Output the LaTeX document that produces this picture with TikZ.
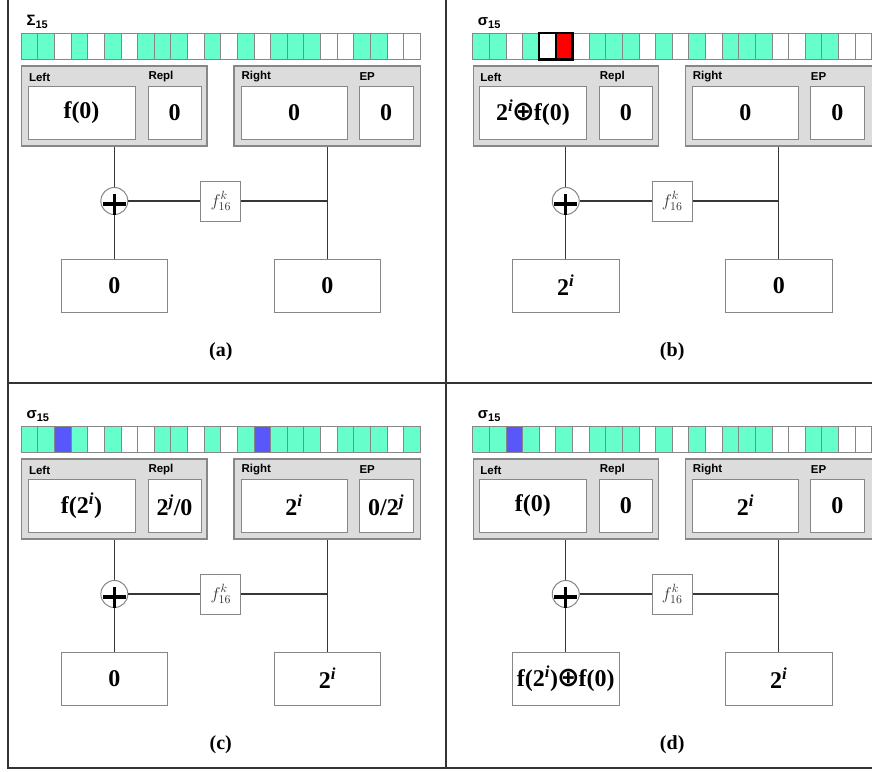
\documentclass[tikz,border=0pt]{standalone}
\usepackage{fix-cm}
\usepackage{fontspec}
\setmainfont{Liberation Serif}
\newfontfamily\labfont{Liberation Sans}
\newfontfamily\opfont{DejaVu Sans}
\usetikzlibrary{calc}

\definecolor{cG}{RGB}{102,255,204}
\definecolor{cW}{RGB}{255,255,255}
\definecolor{cB}{RGB}{88,88,250}
\definecolor{cR}{RGB}{255,0,0}
\definecolor{panelgray}{RGB}{220,220,220}
\definecolor{edgegray}{RGB}{135,135,135}
\definecolor{wire}{RGB}{55,55,55}

\tikzset{
  cell/.style={draw=edgegray, line width=0.9pt},
  holder/.style={rectangle, draw=edgegray, fill=panelgray, line width=1.2pt,
    inner sep=0pt, minimum height=80pt},
  valbox/.style={rectangle, draw=edgegray, fill=white, line width=1pt,
    inner sep=0pt, minimum height=53pt, font=\fontsize{24}{26}\selectfont\bfseries},
  tag/.style={anchor=west, inner sep=0pt, font=\labfont\bfseries\fontsize{11.5}{12}\selectfont},
  wireline/.style={draw=wire, line width=1.4pt},
  xorcirc/.style={circle, draw=edgegray, fill=white, line width=1pt,
    minimum size=27pt, inner sep=0pt},
  fnbox/.style={rectangle, draw=edgegray, fill=white, line width=1pt,
    minimum size=40pt, inner sep=0pt, font=\fontsize{17}{17}\selectfont, text=wire},
  caption/.style={inner sep=0pt, font=\fontsize{20}{22}\selectfont\bfseries},
  title/.style={anchor=base west, inner sep=0pt, font=\labfont\bfseries\fontsize{15}{15}\selectfont},
  frame/.style={draw=black!80, line width=2.4pt},
  pick/.style={draw=black, line width=2.4pt},
}

\newcommand\supi{\textsuperscript{\itshape i}}
\newcommand\supj{\textsuperscript{\itshape j}}
\newcommand\xor{{\opfont\fontsize{27}{27}\selectfont\kern-1pt⊕\kern-1pt}}

% one row of 24 state cells; G green, W white, B blue, R red
\newcommand\cellbar[1]{%
  \foreach \c [count=\i from 0] in {#1} {%
    \draw[cell, fill=c\c] (\i*16.625,0) rectangle ++(16.625,26.5);
  }%
}

% registers, xor and round function of one stage
% #1 id, #2 title, #3 Left, #4 Repl, #5 Right, #6 EP, #7 lower left, #8 lower right, #9 caption
\newcommand\stagepanel[9]{%
  \node[title] (#1-title) at (5,-8) {#2};
  \node[holder, minimum width=185.3pt] (#1-gl) at (93.05,73) {};
  \node[holder, minimum width=186.7pt] (#1-gr) at (306.05,73) {};
  \node[tag] (#1-tl) at (7.5,44) {Left};
  \node[tag] (#1-tr) at (127,44) {Repl};
  \node[tag] (#1-tR) at (220,44) {Right};
  \node[tag] (#1-te) at (338,44) {EP};
  \node[valbox, minimum width=107pt] (#1-left) at (60.2,79.5) {#3};
  \node[valbox, minimum width=53pt] (#1-repl) at (153.2,79.5) {#4};
  \node[valbox, minimum width=106pt] (#1-right) at (272.7,79.5) {#5};
  \node[valbox, minimum width=54pt] (#1-ep) at (364.7,79.5) {#6};
  \node[xorcirc] (#1-x) at (93.05,168) {};
  \node[fnbox] (#1-f) at (199.5,168) {$f^{k}_{16}$};
  \coordinate (#1-j) at (306.05,168);
  \node[valbox, minimum width=106.7pt] (#1-bl) at (93.05,252.5) {#7};
  \node[valbox, minimum width=106.7pt] (#1-br) at (306.05,252.5) {#8};
  \node[caption] (#1-cap) at (199.5,319) {#9};
  \draw[wireline] (#1-gl.south) -- (#1-x.north);
  \draw[wireline] (#1-x.south) -- (#1-bl.north);
  \draw[wireline] (#1-gr.south) -- (#1-br.north);
  \draw[wireline] (#1-x.east) -- (#1-f.west);
  \draw[wireline] (#1-f.east) -- (#1-j);
  \draw[line width=3.2pt, black] ([shift={(-11.5pt,-3pt)}]#1-x.center) -- ([shift={(11.5pt,-3pt)}]#1-x.center);
  \draw[line width=3.2pt, black] ([shift={(0pt,7pt)}]#1-x.center) -- ([shift={(0pt,-13.5pt)}]#1-x.center);
}

\begin{document}
\begin{tikzpicture}[x=1pt, y=-1pt]
\useasboundingbox (0,0) rectangle (872,771);

% (a)
\begin{scope}[shift={(21.3,33)}]
  \cellbar{G,G,W,G,W,G,W,G,G,G,W,G,W,G,W,G,G,G,W,W,G,G,W,W}
  \stagepanel{a}{Σ\raisebox{-3.5pt}{\fontsize{11}{11}\selectfont 15}}{f(0)}{0}{0}{0}{0}{0}{(a)}
\end{scope}

% (b)
\begin{scope}[shift={(472.7,33)}]
  \cellbar{G,G,W,G,W,R,W,G,G,G,W,G,W,G,W,G,G,G,W,W,G,G,W,W}
  \draw[pick] (4*16.625,0) rectangle ++(16.625,26.5);
  \draw[pick, fill=cR] (5*16.625,0) rectangle ++(16.625,26.5);
  \stagepanel{b}{σ\raisebox{-3.5pt}{\fontsize{11}{11}\selectfont 15}}{2\supi\xor f(0)}{0}{0}{0}{2\supi}{0}{(b)}
\end{scope}

% (c)
\begin{scope}[shift={(21.3,426)}]
  \cellbar{G,G,B,G,W,G,W,W,G,G,W,G,W,G,B,G,G,G,W,G,G,G,W,G}
  \stagepanel{c}{σ\raisebox{-3.5pt}{\fontsize{11}{11}\selectfont 15}}{f(2\supi)}{2\supj/0}{2\supi}{0/2\supj}{0}{2\supi}{(c)}
\end{scope}

% (d)
\begin{scope}[shift={(472.7,426)}]
  \cellbar{G,G,B,G,W,G,W,G,G,G,W,G,W,G,W,G,G,G,W,W,G,G,W,W}
  \stagepanel{d}{σ\raisebox{-3.5pt}{\fontsize{11}{11}\selectfont 15}}{f(0)}{0}{2\supi}{0}{f(2\supi)\xor f(0)}{2\supi}{(d)}
\end{scope}

% outer frame and dividers
\draw[frame] (8,0) -- (8,768) -- (872,768);
\draw[frame] (446,0) -- (446,768);
\draw[frame] (8,383) -- (872,383);
\end{tikzpicture}
\end{document}
